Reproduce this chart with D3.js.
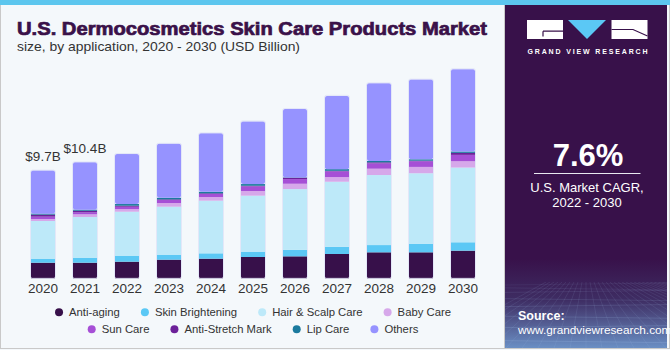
<!DOCTYPE html>
<html><head><meta charset="utf-8">
<script src="https://cdn.jsdelivr.net/npm/d3@7"></script>
<style>html,body{margin:0;padding:0;background:#f4f8fb;}svg{display:block;}</style>
</head><body><svg id="c" width="670" height="350"></svg>
<script>
const years = ["2020","2021","2022","2023","2024","2025","2026","2027","2028","2029","2030"];
const antiAging       = [1.40,1.40,1.49,1.67,1.76,1.91,1.97,2.18,2.33,2.33,2.48];
const skinBrightening = [0.33,0.45,0.51,0.42,0.48,0.48,0.59,0.65,0.65,0.75,0.75];
const hairScalpCare   = [3.41,3.65,3.97,4.33,4.72,5.02,5.44,5.83,6.28,6.34,6.70];
const babyCare        = [0.18,0.24,0.24,0.33,0.33,0.42,0.48,0.42,0.57,0.57,0.57];
const sunCare         = [0.21,0.18,0.21,0.27,0.27,0.42,0.42,0.51,0.48,0.51,0.57];
const antiStretchMark = [0.18,0.14,0.09,0.06,0.06,0.05,0.12,0.05,0.09,0.05,0.18];
const lipCare         = [0.09,0.09,0.15,0.14,0.14,0.15,0.03,0.15,0.12,0.12,0.12];
const others          = [3.86,4.25,4.48,4.84,5.24,5.62,6.13,6.57,6.97,7.15,7.38];
const seriesNames = ["Anti-aging","Skin Brightening","Hair & Scalp Care","Baby Care","Sun Care","Anti-Stretch Mark","Lip Care","Others"];
const seriesColors = ["#37104a","#5bc8f5","#bde9f9","#d6a8ea","#a64fd6","#6c2199","#1b7a9e","#9693ff"];
const valueLabels = ["$9.7B","$10.4B"];
const cagrText = "7.6%";

const seriesValues = [antiAging, skinBrightening, hairScalpCare, babyCare, sunCare, antiStretchMark, lipCare, others];
const table = years.map((y,i)=>{const o={year:y}; seriesNames.forEach((n,k)=>o[n]=seriesValues[k][i]); return o;});
const stack = d3.stack().keys(seriesNames)(table);

const svg = d3.select("#c");
const W=670,H=350;
const FF="Liberation Sans, Arial, sans-serif";
svg.append("rect").attr("width",W).attr("height",H).attr("fill","#f4f8fb");
svg.append("rect").attr("x",0).attr("y",0).attr("width",W).attr("height",5).attr("fill","#5cc6ee");
svg.append("line").attr("x1",0.5).attr("x2",0.5).attr("y1",5).attr("y2",348).attr("stroke","#c9c9c9");
svg.append("line").attr("x1",0).attr("x2",W).attr("y1",348.5).attr("y2",348.5).attr("stroke","#c9c9c9");
svg.append("line").attr("x1",669.5).attr("x2",669.5).attr("y1",5).attr("y2",348).attr("stroke","#c9c9c9");
svg.append("line").attr("x1",504.5).attr("x2",504.5).attr("y1",5).attr("y2",348).attr("stroke","#c9c9c9");

// title
svg.append("text").attr("x",17).attr("y",34.5).text("U.S. Dermocosmetics Skin Care Products Market")
  .attr("font-family",FF).attr("font-weight","900").attr("font-size",18)
  .attr("fill","#3a1149").attr("textLength",470).attr("lengthAdjust","spacingAndGlyphs")
  .attr("stroke","#3a1149").attr("stroke-width",0.7);
svg.append("text").attr("x",17).attr("y",50.5).text("size, by application, 2020 - 2030 (USD Billion)")
  .attr("font-family",FF).attr("font-size",13.5)
  .attr("fill","#333").attr("textLength",283).attr("lengthAdjust","spacingAndGlyphs");

// scales
const x = d3.scaleBand().domain(years).range([10,496]).paddingInner(18/42).paddingOuter(0.5);
const y = d3.scaleLinear().domain([0,20]).range([278.3,278.3-223]);

const g = svg.append("g");
stack.forEach((layer,k)=>{
  const last = k===stack.length-1;
  g.append("g").attr("fill",seriesColors[k]).selectAll("rect").data(layer).join("rect")
    .attr("x",d=>x(d.data.year)).attr("width",x.bandwidth())
    .attr("y",d=>y(d[1]))
    .attr("height",d=>Math.max(0,y(d[0])-y(d[1])))
    .attr("rx",last?2:0);
});
g.append("g").selectAll("rect").data(stack[stack.length-1]).join("rect")
  .attr("x",d=>x(d.data.year)-0.5).attr("width",x.bandwidth()+1)
  .attr("y",d=>y(d[1])-0.5).attr("height",d=>y(0)-y(d[1])+0.5)
  .attr("rx",2).attr("fill","none").attr("stroke","#d9dcf5").attr("stroke-width",0.8).attr("opacity",0.8);

// value labels
const totals = table.map(d=>seriesNames.reduce((s,n)=>s+d[n],0));
svg.append("g").selectAll("text").data(valueLabels).join("text")
  .attr("x",(d,i)=>x(years[i])+x.bandwidth()/2).attr("y",(d,i)=>y(totals[i])-9.5)
  .attr("text-anchor","middle").attr("font-family",FF)
  .attr("font-size",13.5).attr("fill","#333").text(d=>d);

// x axis labels
const xAxis = d3.axisBottom(x).tickSize(0).tickPadding(0);
const ax = svg.append("g").attr("transform",`translate(0,${283.3})`).call(xAxis);
ax.select(".domain").remove();
ax.selectAll("text").attr("font-family",FF).attr("font-size",13.5).attr("fill","#333").attr("dy","0.71em");

// legend
const rows=[seriesNames.slice(0,4), seriesNames.slice(4)];
const rowY=[312.3,329.3];
const legend = svg.append("g");
rows.forEach((row,r)=>{
  const items=[];
  row.forEach(n=>{
    const t=legend.append("text").attr("font-family",FF).attr("font-size",11.3)
      .attr("fill","#333").attr("y",rowY[r]+4).text(n);
    items.push({n,t,w:t.node().getComputedTextLength()});
  });
  const gap=25, pre=10;
  const total = items.reduce((s,it)=>s+pre+it.w,0)+gap*(items.length-1)+4;
  let cx = 253 - total/2 + 4;
  items.forEach(it=>{
    legend.append("circle").attr("cx",cx).attr("cy",rowY[r]).attr("r",4)
      .attr("fill",seriesColors[seriesNames.indexOf(it.n)]);
    it.t.attr("x",cx+pre);
    cx += pre+it.w+gap;
  });
});

// side panel
const defs=svg.append("defs");
const gr=defs.append("linearGradient").attr("id","pg").attr("x1",0).attr("x2",0).attr("y1",0).attr("y2",1);
gr.append("stop").attr("offset","0%").attr("stop-color","#38114a");
gr.append("stop").attr("offset","74%").attr("stop-color","#38114a");
gr.append("stop").attr("offset","86%").attr("stop-color","#3e2d63");
gr.append("stop").attr("offset","100%").attr("stop-color","#6a8fc4");
svg.append("rect").attr("x",505).attr("y",5).attr("width",162).attr("height",343).attr("fill","url(#pg)");
defs.append("clipPath").attr("id","pc").append("rect").attr("x",505).attr("y",282).attr("width",162).attr("height",66);
const grid=svg.append("g").attr("stroke","#a9c9ee").attr("stroke-width",0.6).attr("fill","none").attr("clip-path","url(#pc)");
for(let i=0;i<9;i++){const yy=285+i*i*0.85+i*2;grid.append("line").attr("x1",505).attr("x2",667).attr("y1",yy).attr("y2",yy+(i%2?2:-2)).attr("opacity",0.12+i*0.03);}
for(let i=-10;i<=20;i++){grid.append("line").attr("x1",586+i*4).attr("y1",282).attr("x2",586+i*16).attr("y2",348).attr("opacity",0.18);}

// logo
const lg=svg.append("g");
lg.append("rect").attr("x",527).attr("y",20).attr("width",36).attr("height",19).attr("fill","#fff");
lg.append("path").attr("d","M543,31.2 H563 M543,31.2 V36.5").attr("stroke","#38114a").attr("stroke-width",1.2);
lg.append("path").attr("d","M568,20 L606,20 L587,39 Z").attr("fill","#5bc8f5");
lg.append("rect").attr("x",611.5).attr("y",20).attr("width",36).attr("height",19).attr("fill","#fff");
lg.append("path").attr("d","M611.5,29.5 H633 L647.5,36").attr("stroke","#38114a").attr("stroke-width",1.2).attr("fill","none");
svg.append("text").attr("x",527.5).attr("y",53.5).text("GRAND VIEW RESEARCH")
  .attr("font-family",FF).attr("font-weight","bold").attr("font-size",7)
  .attr("fill","#fff").attr("textLength",120).attr("lengthAdjust","spacing");

svg.append("text").attr("x",588).attr("y",165.7).attr("text-anchor","middle").text(cagrText)
  .attr("font-family",FF).attr("font-weight","bold").attr("font-size",31).attr("fill","#fff");
svg.append("line").attr("x1",534).attr("x2",640.5).attr("y1",173.5).attr("y2",173.5).attr("stroke","#e8e8f0").attr("stroke-width",1.2);
svg.append("text").attr("x",587).attr("y",191.5).attr("text-anchor","middle").text("U.S. Market CAGR,")
  .attr("font-family",FF).attr("font-size",13).attr("fill","#fff");
svg.append("text").attr("x",587).attr("y",207).attr("text-anchor","middle").text("2022 - 2030")
  .attr("font-family",FF).attr("font-size",13).attr("fill","#fff");

svg.append("text").attr("x",518).attr("y",320).text("Source:")
  .attr("font-family",FF).attr("font-weight","bold").attr("font-size",12.5).attr("fill","#fff");
svg.append("text").attr("x",518).attr("y",334).text("www.grandviewresearch.com")
  .attr("font-family",FF).attr("font-size",11.8).attr("fill","#fff");
</script></body></html>
